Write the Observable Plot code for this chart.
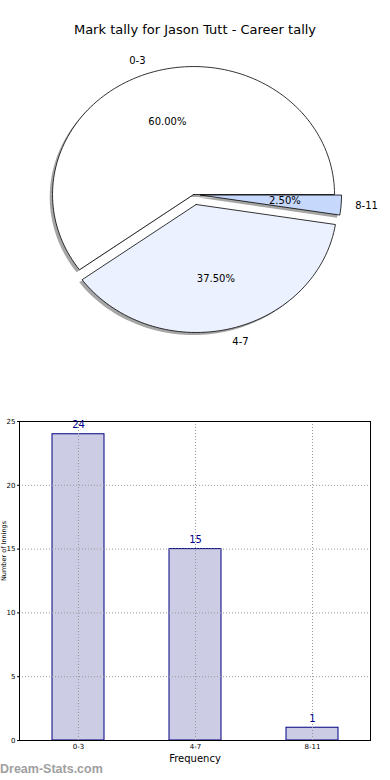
<!DOCTYPE html>
<html>
<head>
<meta charset="utf-8">
<script src="https://cdn.jsdelivr.net/npm/d3@7"></script>
<script src="https://cdn.jsdelivr.net/npm/@observablehq/plot@0.6"></script>
<style>
  html, body { margin: 0; padding: 0; background: #fff; }
  #wrap { position: relative; width: 390px; height: 780px; overflow: hidden; font-family: "DejaVu Sans", sans-serif; }
  #title { position: absolute; left: 0; top: 22px; width: 390px; text-align: center; font-size: 13px; color: #000; }
  #pie { position: absolute; left: 0; top: 0; }
  #bar { position: absolute; left: 0; top: 400px; }
  #wm { position: absolute; left: 0; top: 762px; font-family: "Liberation Sans", Arial, sans-serif; font-weight: bold; font-size: 12.5px; color: #a0a0a0; }
</style>
</head>
<body>
<div id="wrap">
  <div id="pie"></div>
  <div id="bar"></div>
  <div id="title">Mark tally for Jason Tutt - Career tally</div>
  <div id="wm">Dream-Stats.com</div>
</div>
<script>
const title = "Mark tally for Jason Tutt - Career tally";
const categories = ["0-3", "4-7", "8-11"];
const counts = [24, 15, 1];
const pieColors = ["#ffffff", "#ebf1fe", "#c6d9fd"];
const explode = [0, 0.08, 0.05];
const xLabel = "Frequency";
const yLabel = "Number of Innings";
const yTicks = [0, 5, 10, 15, 20, 25];

// ---- Pie (matplotlib-style: start at 0°, counter-clockwise, radius 1) ----
const total = d3.sum(counts);
let acc = 0;
const wedges = categories.map((cat, i) => {
  const frac = counts[i] / total;
  const a0 = acc * 2 * Math.PI, a1 = (acc + frac) * 2 * Math.PI;
  acc += frac;
  const mid = (a0 + a1) / 2;
  const cx = explode[i] * Math.cos(mid), cy = explode[i] * Math.sin(mid);
  const pts = [{x: cx, y: cy}];
  const n = Math.max(4, Math.ceil(200 * frac));
  for (let k = 0; k <= n; k++) {
    const a = a0 + (a1 - a0) * k / n;
    pts.push({x: cx + Math.cos(a), y: cy + Math.sin(a)});
  }
  pts.push({x: cx, y: cy});
  return {cat, i, pts, mid, cx, cy, pct: (frac * 100).toFixed(2) + "%"};
});

const pieMarks = [];
wedges.forEach(w => {
  pieMarks.push(Plot.line(w.pts, {x: d => d.x - 0.02, y: d => d.y - 0.02, fill: "#4d4d4d", fillOpacity: 0.5, stroke: "none", curve: "linear"}));
  pieMarks.push(Plot.line(w.pts, {x: "x", y: "y", fill: pieColors[w.i], stroke: "#000", strokeWidth: 0.8, curve: "linear"}));
});
const labelPts = wedges.map(w => ({
  label: w.cat,
  x: w.cx + 1.1 * Math.cos(w.mid),
  y: w.cy + 1.1 * Math.sin(w.mid)
}));
const pctPts = wedges.map(w => ({
  label: w.pct,
  x: w.cx + 0.6 * Math.cos(w.mid),
  y: w.cy + 0.6 * Math.sin(w.mid)
}));
pieMarks.push(Plot.text(labelPts.filter(d => d.x < 0), {x: "x", y: "y", text: "label", textAnchor: "end", fontSize: 10, fill: "#000"}));
pieMarks.push(Plot.text(labelPts.filter(d => d.x >= 0), {x: "x", y: "y", text: "label", textAnchor: "start", fontSize: 10, fill: "#000"}));
pieMarks.push(Plot.text(pctPts, {x: "x", y: "y", text: "label", textAnchor: "middle", fontSize: 10, fill: "#000"}));

const pie = Plot.plot({
  width: 390, height: 390,
  marginTop: 0, marginBottom: 0, marginLeft: 0, marginRight: 0,
  style: {fontFamily: "DejaVu Sans, sans-serif", background: "transparent"},
  x: {domain: [-1.369, 1.397], axis: null},
  y: {domain: [-1.531, 1.516], axis: null},
  marks: pieMarks
});
document.getElementById("pie").appendChild(pie);

// ---- Bar chart ----
const barData = categories.map((c, i) => ({cat: c, value: counts[i]}));
const bar = Plot.plot({
  width: 390, height: 380,
  marginTop: 21, marginBottom: 40, marginLeft: 19, marginRight: 20,
  style: {fontFamily: "DejaVu Sans, sans-serif", background: "transparent"},
  x: {type: "band", domain: categories, paddingInner: 0.556, paddingOuter: 0.278, label: null},
  y: {domain: [0, 25], label: null},
  marks: [
    Plot.barY(barData, {x: "cat", y: "value", fill: "#cccce5", stroke: "#000080", strokeWidth: 1}),
    Plot.gridX({stroke: "#999", strokeOpacity: 1, strokeDasharray: "1,2"}),
    Plot.gridY(yTicks, {stroke: "#999", strokeOpacity: 1, strokeDasharray: "1,2"}),
    Plot.frame({stroke: "#000", strokeWidth: 1}),
    Plot.axisX({tickSize: 0, tickPadding: 4, fontSize: 7, label: null}),
    Plot.axisY(yTicks, {tickSize: 2, tickPadding: 2, fontSize: 7, label: null}),
    Plot.text(barData, {x: "cat", y: "value", text: d => String(d.value), dy: -6, lineAnchor: "bottom", fontSize: 10, fill: "#00008b"}),
    Plot.text([xLabel], {frameAnchor: "bottom", dy: 21, text: d => d, fontSize: 10, fill: "#000"}),
    Plot.text([yLabel], {frameAnchor: "left", dx: -16, rotate: -90, text: d => d, fontSize: 6.5, fill: "#000"})
  ]
});
document.getElementById("bar").appendChild(bar);
</script>
</body>
</html>
